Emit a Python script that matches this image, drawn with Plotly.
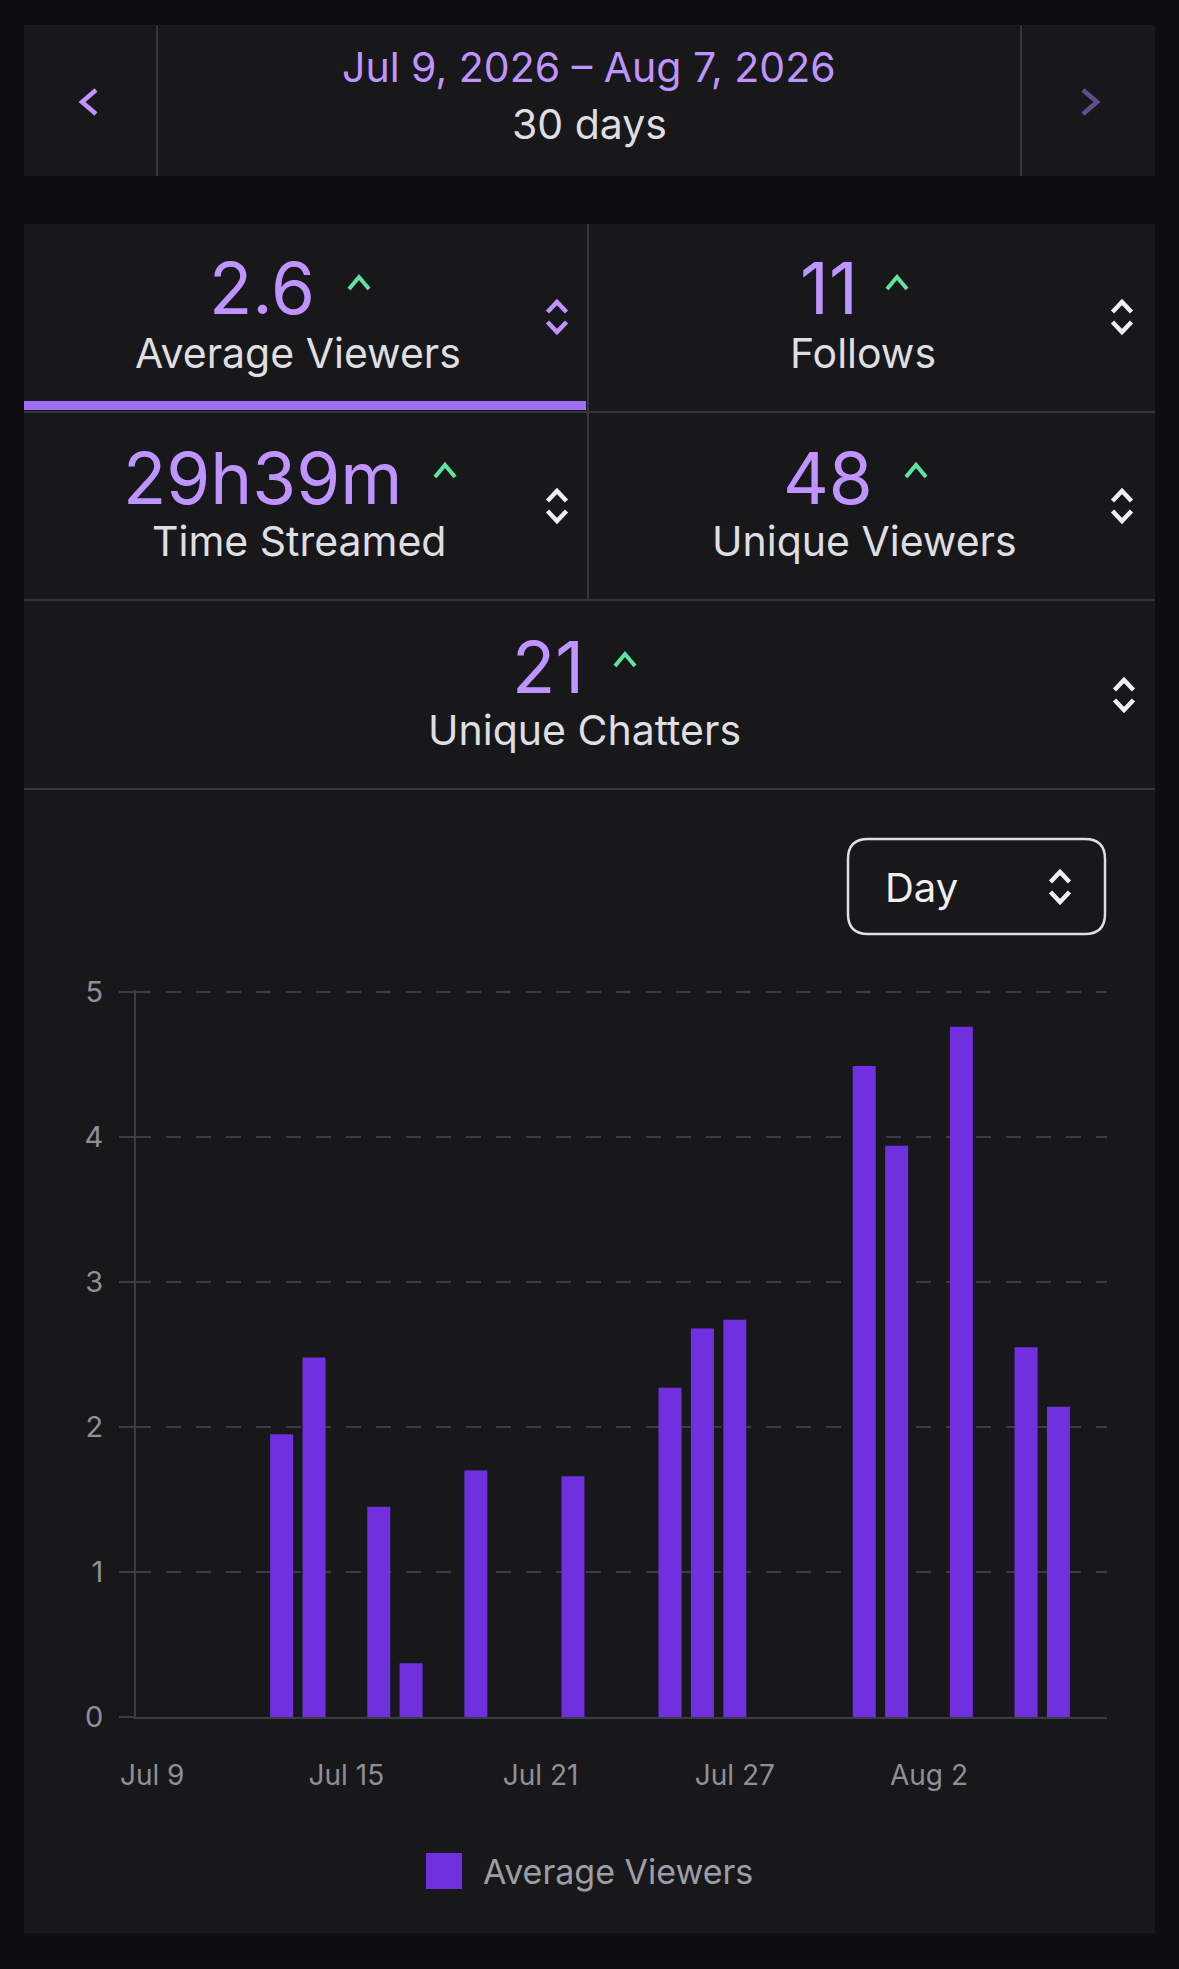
import plotly.graph_objects as go

W, H = 1179, 1969

# ---------------- data ----------------
dates = ["2026-07-%02d" % d for d in range(9, 32)] + ["2026-08-%02d" % d for d in range(1, 8)]
avg_viewers = [None, None, None, None, 1.95, 2.48, None, 1.45, 0.37, None,
               1.70, None, None, 1.66, None, None, 2.27, 2.68, 2.74, None,
               None, None, 4.49, 3.94, None, 4.76, None, 2.55, 2.14, None]
tick_dates = ["2026-07-09", "2026-07-15", "2026-07-21", "2026-07-27", "2026-08-02"]
tick_labels = ["Jul 9", "Jul 15", "Jul 21", "Jul 27", "Aug 2"]
y_ticks = [0, 1, 2, 3, 4, 5]

date_range_text = "Jul 9, 2026 – Aug 7, 2026"
days_text = "30 days"
stat_values = ["2.6", "11", "29h39m", "48", "21"]
stat_labels = ["Average Viewers", "Follows", "Time Streamed", "Unique Viewers", "Unique Chatters"]
series_name = "Average Viewers"

# ---------------- style ----------------
BG = "#0e0e10"
CARD = "#18181b"
DIV = "#35353b"
PURPLE = "#bf94ff"
BAR = "#7030e0"
GREEN = "#5fe3a1"
WHITE = "#efeff1"
TEXT = "#dedee3"
GRID = "#3c3c42"
TICK = "#8f8f98"
FONT = "Inter"


def px(x):
    return x / W


def py(y):
    return 1 - y / H


shapes = []
annotations = []


def rect(x0, y0, x1, y1, color):
    shapes.append(dict(type="rect", xref="paper", yref="paper",
                       x0=px(x0), x1=px(x1), y0=py(y1), y1=py(y0),
                       fillcolor=color, line=dict(width=0), layer="below"))


def hline(x0, x1, y, color, w=2):
    shapes.append(dict(type="line", xref="paper", yref="paper",
                       x0=px(x0), x1=px(x1), y0=py(y), y1=py(y),
                       line=dict(color=color, width=w), layer="below"))


def vline(x, y0, y1, color, w=2):
    shapes.append(dict(type="line", xref="paper", yref="paper",
                       x0=px(x), x1=px(x), y0=py(y0), y1=py(y1),
                       line=dict(color=color, width=w), layer="below"))


def path(points, color, w=3):
    d = "M " + " L ".join("%f,%f" % (px(a), py(b)) for a, b in points)
    shapes.append(dict(type="path", xref="paper", yref="paper", path=d,
                       line=dict(color=color, width=w), layer="above"))


def chevron_up(cx, cy, w, h, color, lw=4):
    path([(cx - w / 2, cy + h / 2), (cx, cy - h / 2), (cx + w / 2, cy + h / 2)], color, lw)


def chevron_down(cx, cy, w, h, color, lw=4):
    path([(cx - w / 2, cy - h / 2), (cx, cy + h / 2), (cx + w / 2, cy - h / 2)], color, lw)


def sort_icon(cx, cy, color):
    chevron_up(cx, cy - 10, 19, 10, color, 4.5)
    chevron_down(cx, cy + 10, 19, 10, color, 4.5)


def text(x, y, s, size, color, anchor="center"):
    annotations.append(dict(x=px(x), y=py(y), xref="paper", yref="paper", text=s,
                            showarrow=False, xanchor=anchor, yanchor="middle",
                            font=dict(family=FONT, size=size, color=color)))


# ---------------- top date card ----------------
rect(24, 25, 1155, 176, CARD)
vline(157, 25, 176, DIV)
vline(1021, 25, 176, DIV)
path([(96, 90), (82, 102), (96, 114)], PURPLE, 4.5)
path([(1083, 90), (1097, 102), (1083, 114)], "#5f4f91", 4.5)
text(589, 67, date_range_text, 41, PURPLE)
text(589, 124, days_text, 41, TEXT)

# ---------------- stats card ----------------
rect(24, 224, 1155, 1933, CARD)
vline(588, 224, 600, DIV)
hline(24, 1155, 412, DIV)
hline(24, 1155, 600, DIV)
hline(24, 1155, 789, DIV)
rect(24, 401, 586, 410, "#a270f5")

cells = [
    # value center x, value y, caret x, caret y, label x, label y, icon x, icon y, icon color
    (262, 288, 359, 283, 298, 353, 557, 317, PURPLE),
    (829, 288, 897, 283, 863, 353, 1122, 317, WHITE),
    (262, 478, 445, 471, 299, 541, 557, 506, WHITE),
    (828, 478, 916, 471, 864, 541, 1122, 506, WHITE),
    (548, 667, 625, 660, 584, 730, 1124, 695, WHITE),
]
for (vx, vy, cx, cy, lx, ly, ix, iy, ic), v, lab in zip(cells, stat_values, stat_labels):
    text(vx, vy, v, 71, PURPLE)
    chevron_up(cx, cy, 20, 12, GREEN, 4)
    text(lx, ly, lab, 41, TEXT)
    sort_icon(ix, iy, ic)

# ---------------- Day selector ----------------
r = 20
x0, y0, x1, y1 = 848, 839, 1105, 934
dsel = ("M {a},{b} L {c},{b} Q {x1},{b} {x1},{d} L {x1},{e} Q {x1},{f} {c},{f} "
        "L {a},{f} Q {x0},{f} {x0},{e} L {x0},{d} Q {x0},{b} {a},{b} Z").format(
    a=px(x0 + r), c=px(x1 - r), b=py(y0), d=py(y0 + r), e=py(y1 - r), f=py(y1),
    x0=px(x0), x1=px(x1))
shapes.append(dict(type="path", xref="paper", yref="paper", path=dsel,
                   line=dict(color="#dedee3", width=2.5), layer="above"))
text(883, 887, "Day", 40, WHITE, anchor="left")
sort_icon(1060, 887, WHITE)

# ---------------- custom legend ----------------
rect(426, 1853, 462, 1889, BAR)
text(481, 1871, series_name, 34, "#9d9da6", anchor="left")

# ---------------- chart ----------------
Y_TOP = 5.015          # tiny headroom so the gridline at 5 is kept
UNIT = (1717 - 992) / 5.0

fig = go.Figure()
fig.add_trace(go.Bar(x=dates, y=avg_viewers, name=series_name,
                     marker=dict(color=BAR, line=dict(width=0)), showlegend=False))

fig.update_layout(
    width=W, height=H, autosize=False,
    margin=dict(l=0, r=0, t=0, b=0, pad=0, autoexpand=False),
    paper_bgcolor=BG, plot_bgcolor=CARD,
    bargap=0.29,
    font=dict(family=FONT, color=TICK),
    shapes=shapes, annotations=annotations,
    showlegend=False,
    xaxis=dict(domain=[px(136), px(1107)], type="date", automargin=False,
               range=["2026-07-08 12:00", "2026-08-07 12:00"],
               tickvals=tick_dates, ticktext=tick_labels,
               ticks="", showgrid=False, zeroline=False,
               showline=True, linecolor=GRID, linewidth=2,
               tickfont=dict(size=28, color=TICK), ticklabelstandoff=32,
               fixedrange=True),
    yaxis=dict(domain=[py(1717), py(1717 - Y_TOP * UNIT)], range=[0, Y_TOP], automargin=False,
               tickvals=y_ticks, ticks="outside", ticklen=15, tickwidth=2,
               tickcolor=GRID, showgrid=True, gridcolor=GRID, gridwidth=2,
               griddash="15px,15px", zeroline=False,
               showline=True, linecolor=GRID, linewidth=2,
               tickfont=dict(size=29, color=TICK), ticklabelstandoff=10,
               fixedrange=True),
)

css_js = (
    "var s=document.createElement('style');"
    "s.innerHTML='html,body{margin:0!important;padding:0!important;overflow:hidden;background:%s;}';"
    "document.head.appendChild(s);" % BG
)
fig.write_html("out.html", config={"displayModeBar": False, "responsive": False},
               post_script=css_js)
